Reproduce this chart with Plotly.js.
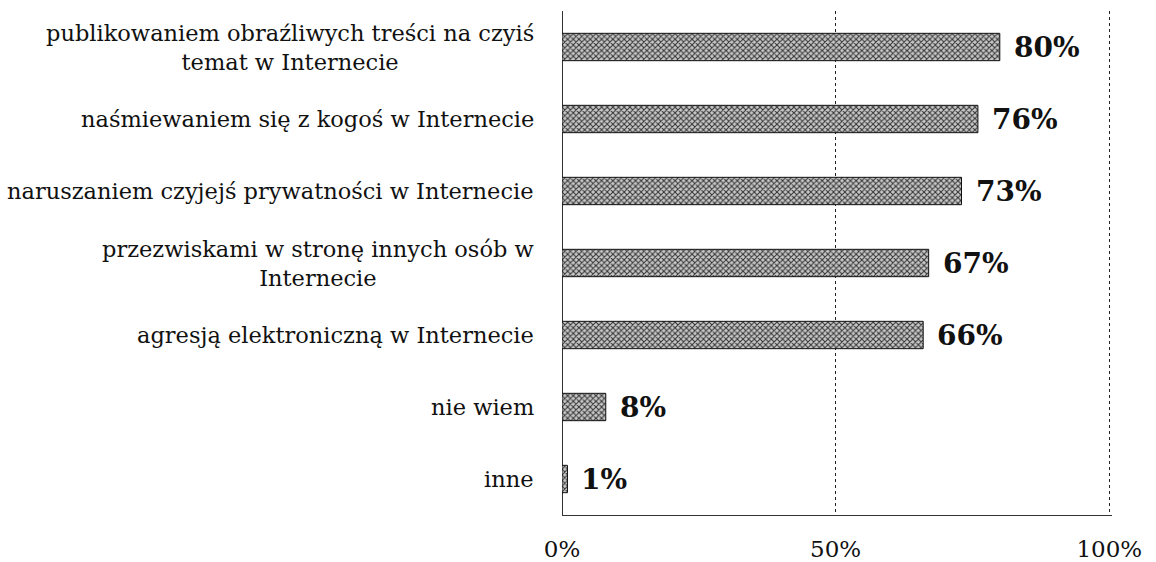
<!DOCTYPE html>
<html>
<head>
<meta charset="utf-8">
<script src="https://cdn.plot.ly/plotly-3.0.1.min.js"></script>
<style>html,body{margin:0;padding:0;background:#fff;}#chart{width:1156px;height:562px;}</style>
</head>
<body>
<div id="chart"></div>
<script>
const categories = [
  "publikowaniem obraźliwych treści na czyiś<br>temat w Internecie",
  "naśmiewaniem się z kogoś w Internecie",
  "naruszaniem czyjejś prywatności w Internecie",
  "przezwiskami w stronę innych osób w<br>Internecie",
  "agresją elektroniczną w Internecie",
  "nie wiem",
  "inne"
];
const values = [80, 76, 73, 67, 66, 8, 1];
const valueLabels = ["80%", "76%", "73%", "67%", "66%", "8%", "1%"];
const tickVals = [0, 50, 100];
const tickText = ["0%", "50%", "100%"];

const serif = "DejaVu Serif, Liberation Serif, serif";

const trace = {
  type: "bar",
  orientation: "h",
  y: categories,
  x: values,
  width: 0.38,
  marker: {
    color: "#a0a0a0",
    line: {color: "#111", width: 1},
    pattern: {shape: "x", size: 4, solidity: 0.45, fgcolor: "#333", bgcolor: "#c8c8c8"}
  },
  hoverinfo: "skip"
};

const annotations = [];
categories.forEach((c, i) => {
  annotations.push({
    xref: "paper", yref: "y", x: 0, y: c, xanchor: "right", yanchor: "middle",
    xshift: -26, text: c, showarrow: false, align: "center",
    font: {family: serif, size: 22.5, color: "#111"}
  });
  annotations.push({
    xref: "x", yref: "y", x: values[i], y: c, xanchor: "left", yanchor: "middle",
    xshift: 12, text: "<b>" + valueLabels[i] + "</b>", showarrow: false,
    font: {family: serif, size: 28, color: "#111"}
  });
});

const layout = {
  width: 1156, height: 562,
  margin: {l: 562, r: 44, t: 11, b: 47},
  paper_bgcolor: "#fff", plot_bgcolor: "#fff",
  showlegend: false,
  xaxis: {
    range: [0, 100.5], tickvals: tickVals, ticktext: tickText,
    showgrid: true, gridcolor: "#222", griddash: "dot", gridwidth: 1,
    zeroline: true, zerolinecolor: "#333", zerolinewidth: 1,
    showline: true, linecolor: "#333", linewidth: 1,
    ticks: "outside", ticklen: 13, tickcolor: "rgba(0,0,0,0)",
    tickfont: {family: serif, size: 23, color: "#111"},
    fixedrange: true
  },
  yaxis: {
    categoryorder: "array", categoryarray: categories,
    autorange: "reversed",
    showticklabels: false, showgrid: false, zeroline: false,
    showline: false, ticks: "", fixedrange: true
  },
  annotations: annotations
};

Plotly.newPlot("chart", [trace], layout, {displayModeBar: false, staticPlot: true});
</script>
</body>
</html>
